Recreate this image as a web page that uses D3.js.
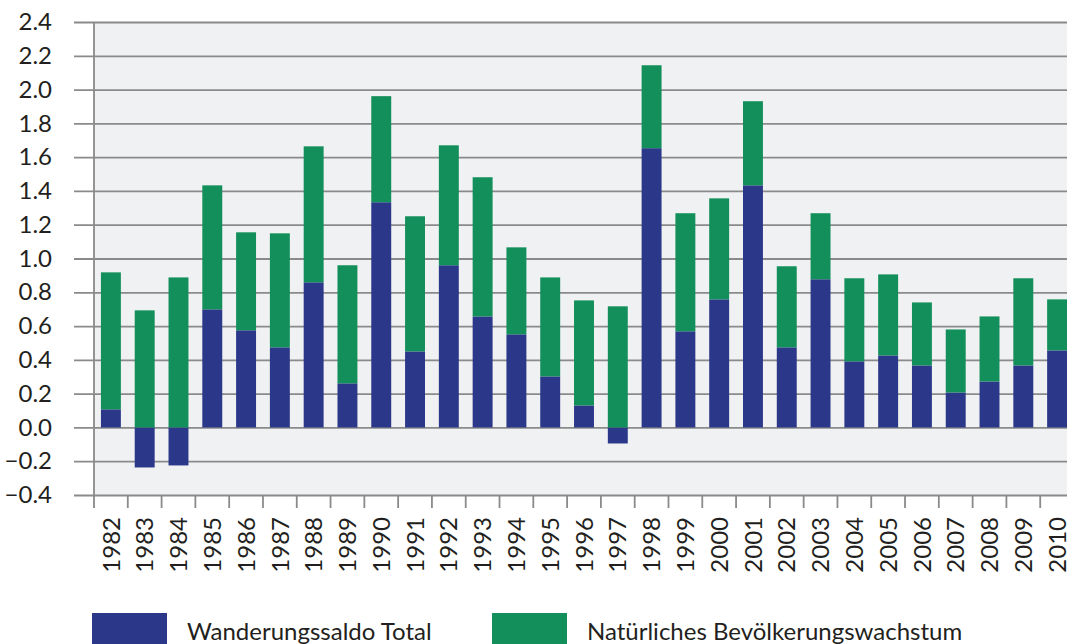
<!DOCTYPE html>
<html>
<head>
<meta charset="utf-8">
<script src="https://cdn.jsdelivr.net/npm/d3@7"></script>
<style>
  body { margin: 0; background: #fff; }
  svg { display: block; font-family: Lato, "Liberation Sans", sans-serif; }
</style>
</head>
<body>
<div id="chart"></div>
<script>
var years = ["1982", "1983", "1984", "1985", "1986", "1987", "1988", "1989", "1990", "1991",
  "1992", "1993", "1994", "1995", "1996", "1997", "1998", "1999", "2000", "2001",
  "2002", "2003", "2004", "2005", "2006", "2007", "2008", "2009", "2010"];

// Wanderungssaldo Total
var migration = [0.107, -0.237, -0.225, 0.699, 0.575, 0.474, 0.859, 0.261, 1.333, 0.450,
  0.960, 0.657, 0.551, 0.302, 0.130, -0.095, 1.653, 0.569, 0.758, 1.433,
  0.474, 0.877, 0.391, 0.426, 0.367, 0.207, 0.272, 0.367, 0.456];

// Natürliches Bevölkerungswachstum
var natural = [0.811, 0.693, 0.888, 0.734, 0.580, 0.675, 0.805, 0.699, 0.628, 0.800,
  0.710, 0.824, 0.515, 0.586, 0.622, 0.717, 0.491, 0.699, 0.598, 0.498,
  0.480, 0.391, 0.492, 0.480, 0.373, 0.373, 0.385, 0.516, 0.302];

var yTicks = [-0.4, -0.2, 0, 0.2, 0.4, 0.6, 0.8, 1.0, 1.2, 1.4, 1.6, 1.8, 2.0, 2.2, 2.4];
var seriesNames = ["Wanderungssaldo Total", "Natürliches Bevölkerungswachstum"];
var colors = ["#2b3889", "#128f5a"];

var svgWidth = 1067;
var svgHeight = 644;

var plot = { left: 94, right: 1074, top: 22, bottom: 495 };

var svg = d3.select("#chart")
  .append("svg")
  .attr("width", svgWidth)
  .attr("height", svgHeight);

var rows = years.map(function(y, i) {
  return { year: y, migration: migration[i], natural: natural[i] };
});

var stacked = d3.stack()
  .keys(["migration", "natural"])
  .offset(d3.stackOffsetDiverging)(rows);

var x = d3.scaleBand()
  .domain(years)
  .range([plot.left, plot.right])
  .paddingInner(0.41)
  .paddingOuter(0.205);

var y = d3.scaleLinear()
  .domain([-0.4, 2.4])
  .range([plot.bottom, plot.top]);

var step = x.step();

// plot background
svg.append("rect")
  .attr("x", plot.left)
  .attr("y", plot.top)
  .attr("width", plot.right - plot.left)
  .attr("height", plot.bottom - plot.top)
  .attr("fill", "#f0f1f3");

// y axis with gridlines
var yAxis = d3.axisLeft(y)
  .tickValues(yTicks)
  .tickSize(-(plot.right - 74))
  .tickPadding(22)
  .tickFormat(d3.format(".1f"));

var yAxisG = svg.append("g")
  .attr("transform", "translate(74,0)")
  .call(yAxis);

yAxisG.select(".domain").remove();
yAxisG.selectAll("line")
  .attr("stroke", "#8a8a8a")
  .attr("stroke-width", 1.8);
yAxisG.selectAll("text")
  .attr("font-size", "24px")
  .attr("fill", "#231f20")
  .attr("font-family", "Lato, sans-serif");

// left vertical axis line
svg.append("line")
  .attr("x1", plot.left)
  .attr("x2", plot.left)
  .attr("y1", plot.top)
  .attr("y2", plot.bottom + 13)
  .attr("stroke", "#8a8a8a")
  .attr("stroke-width", 1.8);

// bottom ticks between categories
svg.append("g")
  .selectAll("line")
  .data(years.slice(1))
  .enter().append("line")
  .attr("x1", d => x(d) - step * x.paddingInner() / 2)
  .attr("x2", d => x(d) - step * x.paddingInner() / 2)
  .attr("y1", plot.bottom)
  .attr("y2", plot.bottom + 13)
  .attr("stroke", "#8a8a8a")
  .attr("stroke-width", 1.8);

// bars
svg.append("g")
  .selectAll("g")
  .data(stacked)
  .enter().append("g")
  .attr("fill", (d, i) => colors[i])
  .selectAll("rect")
  .data(d => d)
  .enter().append("rect")
  .attr("x", d => x(d.data.year))
  .attr("y", d => y(Math.max(d[0], d[1])))
  .attr("width", x.bandwidth())
  .attr("height", d => Math.abs(y(d[0]) - y(d[1])));

// x axis labels
var xAxis = d3.axisBottom(x).tickSize(0);
var xAxisG = svg.append("g")
  .attr("transform", `translate(0, ${plot.bottom})`)
  .call(xAxis);

xAxisG.select(".domain").remove();
xAxisG.selectAll("text")
  .attr("transform", "rotate(-90)")
  .attr("text-anchor", "end")
  .attr("x", -22)
  .attr("y", 0)
  .attr("dy", "0.36em")
  .attr("font-size", "24px")
  .attr("fill", "#231f20")
  .attr("font-family", "Lato, sans-serif");

// legend
var legendX = [92, 492];
var legend = svg.append("g")
  .selectAll("g")
  .data(seriesNames)
  .enter().append("g")
  .attr("transform", (d, i) => `translate(${legendX[i]}, 613)`);

legend.append("rect")
  .attr("width", 75)
  .attr("height", 31)
  .attr("fill", (d, i) => colors[i]);

legend.append("text")
  .attr("x", 95)
  .attr("y", 27)
  .attr("font-size", "24px")
  .attr("fill", "#231f20")
  .text(d => d);
</script>
</body>
</html>
